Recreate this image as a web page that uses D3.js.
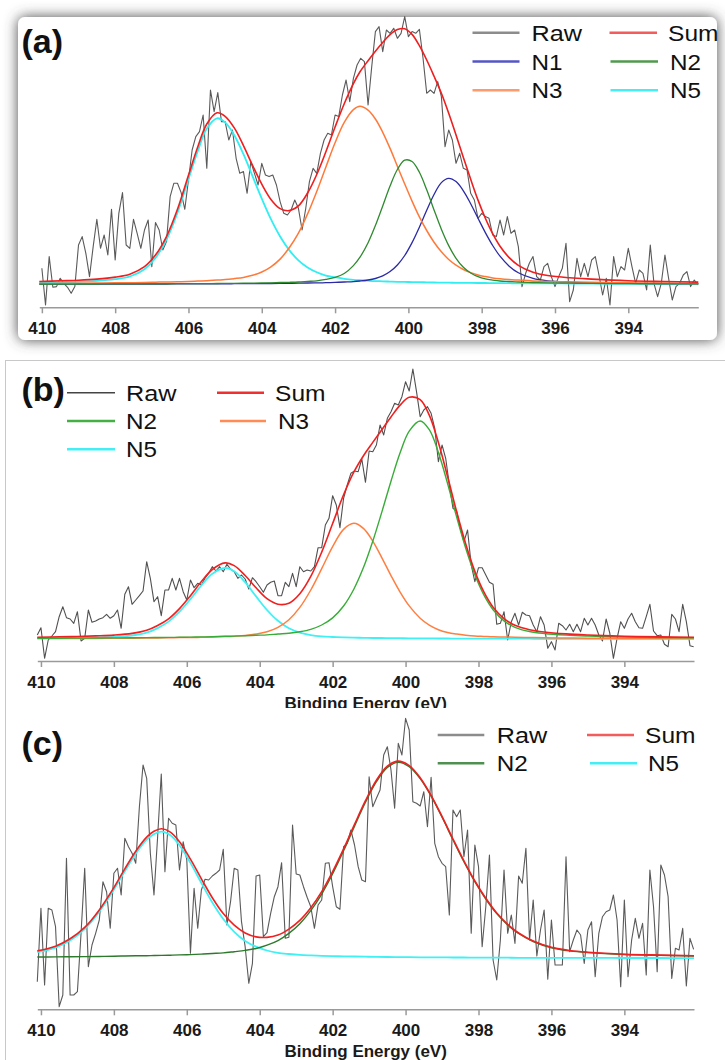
<!DOCTYPE html>
<html>
<head>
<meta charset="utf-8">
<script src="https://cdn.jsdelivr.net/npm/d3@7"></script>
<style>
  body { margin: 0; background: #fff; }
  svg { display: block; font-family: "Liberation Sans", Arial, sans-serif; }
</style>
</head>
<body>
<div id="chart"></div>
<script>
// Binding energy ticks shared by all three panels
const ticks = [410, 408, 406, 404, 402, 400, 398, 396, 394];

// Raw energies (eV), panel a
const energyA = [
  410, 409.9, 409.8, 409.7, 409.6, 409.5, 409.4, 409.3, 409.2, 409.1,
  409, 408.9, 408.8, 408.7, 408.6, 408.5, 408.4, 408.3, 408.2, 408.1,
  408, 407.9, 407.8, 407.7, 407.6, 407.5, 407.4, 407.3, 407.2, 407.1,
  407, 406.9, 406.8, 406.7, 406.6, 406.5, 406.4, 406.3, 406.2, 406.1,
  406, 405.9, 405.8, 405.7, 405.6, 405.5, 405.4, 405.3, 405.2, 405.1,
  405, 404.9, 404.8, 404.7, 404.6, 404.5, 404.4, 404.3, 404.2, 404.1,
  404, 403.9, 403.8, 403.7, 403.6, 403.5, 403.4, 403.3, 403.2, 403.1,
  403, 402.9, 402.8, 402.7, 402.6, 402.5, 402.4, 402.3, 402.2, 402.1,
  402, 401.9, 401.8, 401.7, 401.6, 401.5, 401.4, 401.3, 401.2, 401.1,
  401, 400.9, 400.8, 400.7, 400.6, 400.5, 400.4, 400.3, 400.2, 400.1,
  400, 399.9, 399.8, 399.7, 399.6, 399.5, 399.4, 399.3, 399.2, 399.1,
  399, 398.9, 398.8, 398.7, 398.6, 398.5, 398.4, 398.3, 398.2, 398.1,
  398, 397.9, 397.8, 397.7, 397.6, 397.5, 397.4, 397.3, 397.2, 397.1,
  397, 396.9, 396.8, 396.7, 396.6, 396.5, 396.4, 396.3, 396.2, 396.1,
  396, 395.9, 395.8, 395.7, 395.6, 395.5, 395.4, 395.3, 395.2, 395.1,
  395, 394.9, 394.8, 394.7, 394.6, 394.5, 394.4, 394.3, 394.2, 394.1,
  394, 393.9, 393.8, 393.7, 393.6, 393.5, 393.4, 393.3, 393.2, 393.1,
  393, 392.9, 392.8, 392.7, 392.6, 392.5, 392.4, 392.3, 392.2, 392.1
];
// Raw energies (eV), panels b and c start one step earlier
const energyBC = [410.1].concat(energyA);

// Raw intensities (a.u.)
const rawA = [
  39, 2.3, 50.7, 20, 20.7, 29, 24, 20, 14, 20.7,
  62.3, 70.7, 54, 30.7, 60.7, 88, 59, 72.3, 52.3, 98,
  47.3, 94, 114.7, 62.3, 59, 88, 74, 59, 77.3, 87.3,
  40.7, 84.7, 77.3, 57.3, 65.7, 110.7, 124, 124, 114.7, 98,
  127.3, 157.3, 170.7, 175.7, 192.3, 139, 217.3, 195.7, 214.7, 185.7,
  185.7, 167.3, 177.3, 149, 134, 135.7, 114, 145.7, 134, 122.3,
  144, 132.3, 130.7, 132.3, 122.3, 105.7, 94, 92.3, 97.3, 107.3,
  99, 77.3, 99, 125.7, 139, 134, 154, 167.3, 174, 172.3,
  192.3, 190.7, 212.3, 227.3, 205.7, 229, 242.3, 249, 245.7, 202.3,
  240.7, 275.7, 280.7, 255.7, 277.3, 274, 279, 269, 274, 290.7,
  270.7, 275.7, 274, 278, 249, 214, 217.3, 214, 225.7, 210.7,
  160.7, 177.3, 167.3, 144, 154, 139, 137.3, 114, 107.3, 89,
  94, 90.7, 89, 72.3, 70.7, 87.3, 72.3, 90.7, 74, 77.3,
  60.7, 20.7, 34, 44, 50.7, 30.7, 27.3, 40.7, 44, 30.7,
  20.7, 30.7, 39, 64, 5.7, 17.3, 49, 30.7, 44, 30.7,
  47.3, 50.7, 32.3, 12.3, 29, 2.3, 50.7, 30.7, 40.7, 37.3,
  59, 40.7, 24, 37.3, 34, 17.3, 62.3, 24, 10.7, 24,
  52.3, 29, 7.3, 20.7, 24, 32.3, 35.7, 20.7, 27.3, 22.3
];
const rawB = [
  26, 33.3, 2.7, 21, 25, 29.3, 44.3, 54.3, 43.3, 42,
  37.7, 49.3, 20, 22.7, 51, 38.7, 40, 42, 43.3, 46.7,
  42.7, 45.3, 51, 32.7, 66.7, 74.3, 56.7, 61, 65.3, 70,
  99.3, 82.7, 59.3, 64.3, 45.3, 71, 71, 82.7, 71, 82.7,
  69.3, 61, 81, 73.3, 77.7, 76, 82.7, 87.7, 94.3, 90,
  94.3, 89.3, 96.7, 92, 89.3, 82.7, 86, 82, 72, 83.3,
  79.3, 74.3, 68.7, 76, 78.7, 80, 65.3, 65.3, 78.7, 74.3,
  87.7, 74.3, 94.3, 89.3, 91, 90, 94.3, 113.3, 113.3, 136,
  142.7, 165.3, 156, 133.3, 162.7, 176, 187.7, 190, 189.3, 202,
  178.7, 210, 209.3, 216, 236, 226, 242.7, 249.3, 257.7, 256,
  264.3, 279.3, 270, 292, 269.3, 244.3, 251, 254.3, 247.7, 232.7,
  199.3, 216, 202.7, 176, 152.7, 150, 132.7, 119.3, 131, 96,
  79.3, 93.3, 93.3, 86, 78.7, 76.7, 36.7, 37.7, 49.3, 21,
  39.3, 47.7, 36, 48.7, 46, 45.3, 36, 29.3, 44.3, 36,
  12.7, 19.3, 11, 37.7, 35.3, 31, 36.7, 29.3, 36.7, 29.3,
  42.7, 36, 42.7, 36, 26, 20, 42, 28, 2.7, 22.7,
  39.3, 32.7, 42, 47.7, 39.3, 33.3, 32.7, 44.3, 56.7, 30,
  25.3, 26, 16.7, 14.3, 46.7, 42, 29.3, 56.7, 39.3, 15.3, 14.3
];
const rawC = [
  27.6, 101, 24.3, 101, 99.3, 82.6, 2.6, 14.3, 151, 14.3,
  14.3, 17.6, 76, 141, 42.6, 64.3, 76, 89.3, 127.6, 117.6,
  81, 136, 141, 114.3, 171, 162.6, 156, 146, 202.6, 244.3,
  231, 156, 114.3, 172.6, 235.3, 137.6, 191, 186, 184.3, 139.3,
  167.6, 149.3, 56, 121, 81, 119.3, 130, 129.3, 133.3, 136,
  139.3, 160, 84.3, 107.6, 141, 139.3, 87.6, 62.6, 26, 46,
  133.3, 134.3, 72.6, 76.6, 96, 112.6, 122.6, 146.6, 71, 72,
  184.3, 135.3, 134.3, 122.6, 112, 102.6, 81, 104.3, 109.3, 146,
  146.6, 122.6, 102.6, 100, 162.6, 166, 179.3, 164.3, 142.6, 129.3,
  127.6, 232.6, 202.6, 211, 219.3, 254.3, 262.6, 239.3, 201, 266,
  254.3, 291, 279.3, 207.6, 206, 203.3, 217.6, 182.6, 232, 166,
  152.6, 146, 142.6, 94.3, 199.3, 192.6, 199.3, 152.6, 179.3, 76,
  164.3, 142.6, 62.6, 102.6, 154.3, 49.3, 29.3, 69.3, 139.3, 76,
  94.3, 65.9, 133.3, 126, 161, 69.3, 109.3, 53.3, 79.3, 99.3,
  30, 89.3, 44.3, 44.3, 44.3, 152.6, 57.6, 69.3, 79.3, 74.3,
  45.9, 79.3, 87.6, 32.6, 76, 92.6, 97.6, 99.3, 114.3, 89.3,
  22.6, 109.3, 32.6, 69.3, 91, 71, 86, 34.3, 139.3, 102.6,
  37.6, 144.3, 134.3, 112.6, 30.9, 61, 59.3, 81, 23.3, 71, 60
];

// Fitted curves, panel a (sampled energies and intensities)
const fitEnergyA = [410.07, 409.5, 409, 408.5, 408, 407.6, 407.2, 406.9, 406.6, 406.3,
  406, 405.75, 405.5, 405.22, 405, 404.75, 404.5, 404.25, 404, 403.75,
  403.5, 403.25, 403, 402.75, 402.5, 402.25, 402, 401.75, 401.5, 401.32,
  401.1, 400.9, 400.7, 400.5, 400.3, 400.1, 399.9, 399.7, 399.5, 399.3,
  399.1, 398.9, 398.7, 398.5, 398.3, 398.1, 397.9, 397.7, 397.5, 397.25,
  397, 396.6, 396.2, 395.6, 395, 394, 393, 392.09];
const sumA = [25.8, 26.5, 27.1, 28.2, 30.2, 33.1, 40.6, 52.2, 70.7, 98,
  132, 160.1, 183.3, 194.5, 191, 179.4, 161.7, 141.8, 123.1, 107.9,
  98.7, 96.7, 101.4, 114.3, 132.8, 155.6, 180.3, 203.5, 223.6, 235.5,
  246.6, 256.1, 264.8, 272.6, 277.7, 278.6, 272.9, 261.6, 247.3, 231.1,
  214.1, 194.1, 172.4, 149.7, 128, 107.2, 89.1, 73.6, 61, 49.7,
  42, 35.1, 31.8, 29.5, 28.2, 26.6, 25.8, 25.2];
const n1A = [23.2, 23.2, 23.2, 23.2, 23.3, 23.3, 23.3, 23.3, 23.3, 23.4,
  23.4, 23.4, 23.4, 23.5, 23.5, 23.6, 23.6, 23.7, 23.7, 23.8,
  23.9, 24, 24.1, 24.3, 24.4, 24.6, 24.9, 25.3, 25.7, 26.3,
  27.3, 28.8, 31.4, 35.7, 42.3, 51.8, 64.7, 80.1, 97, 112.8,
  124.7, 129, 125.7, 116.5, 103.6, 89, 74.7, 61.8, 51.1, 41.1,
  34.5, 28.9, 26.5, 25.2, 24.6, 24, 23.7, 23.6];
const n2A = [23.2, 23.2, 23.3, 23.3, 23.4, 23.4, 23.4, 23.5, 23.5, 23.6,
  23.6, 23.7, 23.7, 23.8, 23.9, 24, 24.1, 24.2, 24.4, 24.5,
  24.8, 25, 25.3, 25.9, 26.5, 27.9, 29.9, 33.8, 41.7, 50.1,
  64.6, 81.8, 101.4, 121.3, 137.8, 147.1, 145.8, 135, 117.5, 97.4,
  78.1, 61.7, 49, 40, 34.3, 30.6, 28.4, 27.2, 26.3, 25.8,
  25.3, 24.8, 24.5, 24.1, 23.9, 23.6, 23.5, 23.4];
const n3A = [23.8, 24, 24.1, 24.3, 24.5, 24.6, 24.8, 25.1, 25.3, 25.5,
  25.8, 26.2, 26.5, 27.2, 27.7, 28.7, 29.9, 32, 35.3, 40.5,
  48.2, 59.5, 74.1, 93.4, 115.9, 140.4, 164.5, 184.9, 197.7, 201,
  197.1, 188.3, 175, 158.9, 141.1, 123.3, 106.2, 90.4, 76.8, 65.1,
  55.6, 47.8, 42.2, 37.8, 34.7, 32.3, 30.7, 29.4, 28.5, 27.7,
  27.2, 26.4, 25.9, 25.4, 25, 24.5, 24.2, 23.9];
const n5A = [24.6, 25.1, 25.5, 26.4, 28.1, 30.8, 38.1, 49.3, 67.6, 94.6,
  128.2, 155.8, 178.7, 189, 184.9, 172.1, 153.1, 130.9, 108.7, 88.1,
  70.8, 57.2, 46.9, 39.8, 35, 31.7, 30, 28.5, 27.5, 27.1,
  26.6, 26.2, 26, 25.7, 25.5, 25.4, 25.2, 25.1, 25, 24.8,
  24.7, 24.6, 24.5, 24.4, 24.4, 24.3, 24.3, 24.2, 24.1, 24.1,
  24, 24, 23.9, 23.8, 23.7, 23.5, 23.4, 23.4];

// Fitted curves, panel b
const fitEnergyB = [410.1, 409.5, 409, 408.5, 408, 407.5, 407.1, 406.8, 406.5, 406.2,
  405.9, 405.6, 405.3, 404.95, 404.7, 404.4, 404.1, 403.8, 403.5, 403.2,
  402.9, 402.6, 402.3, 402, 401.7, 401.42, 401.15, 400.9, 400.65, 400.4,
  400.15, 399.9, 399.6, 399.35, 399.1, 398.85, 398.6, 398.35, 398.1, 397.85,
  397.6, 397.3, 397, 396.6, 396.2, 395.6, 395, 394, 393, 392.09];
const sumB = [23.8, 24.2, 24.5, 25.1, 25.9, 27.6, 30.7, 35.5, 42.2, 52.4,
  65.3, 79.4, 91.5, 98.1, 95.4, 85.5, 73.2, 62.3, 56.8, 57.8,
  67.3, 84.6, 108.9, 137.5, 166.2, 188.8, 205.5, 218.6, 231.3, 244.1,
  255.9, 263.7, 261.4, 245.8, 218.4, 184.7, 149.4, 117, 89.6, 68.8,
  53.8, 42.4, 35.7, 31.3, 29, 27.1, 26, 24.8, 24.1, 23.7];
const n2B = [22.7, 22.8, 22.9, 23, 23.1, 23.3, 23.4, 23.5, 23.6, 23.7,
  23.9, 24.1, 24.3, 24.7, 24.9, 25.2, 25.7, 26.1, 27, 27.8,
  29.3, 31.7, 36, 43.1, 55, 71.8, 93.9, 119.7, 149.1, 179.8,
  208.2, 229.9, 240, 231.3, 208.6, 177.7, 144.1, 112.8, 86.2, 65.8,
  51.3, 40.1, 33.7, 29.5, 27.5, 25.9, 25, 24, 23.5, 23.2];
const n3B = [22.4, 22.5, 22.5, 22.6, 22.7, 22.8, 23, 23.1, 23.2, 23.4,
  23.5, 23.7, 24, 24.4, 24.8, 25.5, 26.9, 29.2, 33.6, 41.3,
  53.6, 71, 92.3, 114.4, 131.6, 137.7, 132.4, 119.9, 103.2, 85.4,
  68.9, 55.1, 42.8, 35.9, 31.3, 28.5, 26.9, 25.8, 25, 24.6,
  24.2, 24, 23.7, 23.5, 23.3, 23, 22.8, 22.6, 22.5, 22.4];
const n5B = [22.7, 22.9, 23.1, 23.5, 24.1, 25.5, 28.3, 32.9, 39.4, 49.3,
  61.9, 75.6, 87.2, 93, 89.7, 78.8, 64.6, 51, 40.2, 32.7,
  28.4, 25.9, 24.6, 24, 23.6, 23.3, 23.2, 23, 23, 22.9,
  22.8, 22.7, 22.6, 22.6, 22.5, 22.5, 22.4, 22.4, 22.4, 22.4,
  22.3, 22.3, 22.3, 22.3, 22.2, 22.2, 22.2, 22.2, 22.1, 22.1];

// Fitted curves, panel c
const fitEnergyC = [410.1, 409.6, 409.2, 408.8, 408.4, 408, 407.7, 407.4, 407.1, 406.9,
  406.69, 406.45, 406.2, 405.9, 405.6, 405.3, 405, 404.7, 404.4, 404.1,
  403.8, 403.5, 403.2, 402.9, 402.6, 402.3, 402, 401.7, 401.4, 401.1,
  400.8, 400.5, 400.2, 399.9, 399.6, 399.3, 399, 398.7, 398.4, 398.1,
  397.8, 397.5, 397.2, 396.9, 396.5, 396, 395.5, 395, 394, 393, 392.09];
const sumC = [58.4, 63.1, 70.5, 81.9, 99.4, 121.7, 140.4, 158.1, 172.2, 178,
  180.5, 177.2, 167.5, 150.1, 130.5, 111.6, 95.7, 84.1, 76.3, 72.4,
  71.9, 74.2, 80.2, 88.9, 101.5, 117.7, 137.7, 160.4, 184.9, 208.6,
  229.1, 243.1, 248.2, 243.7, 231.6, 214, 192.9, 170.3, 148.4, 128.3,
  111, 96.3, 85, 76.3, 68.3, 62, 58.8, 57.1, 55.1, 54.2, 53.5];
const n2C = [52.3, 52.4, 52.6, 52.7, 52.8, 53.1, 53.3, 53.5, 53.6, 53.8,
  53.9, 54.1, 54.4, 54.7, 55.2, 55.8, 56.4, 57.6, 58.9, 60.8,
  64.1, 68.7, 75.9, 85.5, 98.6, 115.2, 135.5, 158.5, 183.1, 207,
  227.6, 241.8, 247, 242.6, 230.6, 213.1, 192, 169.5, 147.6, 127.6,
  110.3, 95.7, 84.4, 75.8, 67.8, 61.6, 58.4, 56.7, 54.8, 53.9, 53.3];
const n5C = [57.1, 61.7, 68.9, 80.2, 97.6, 119.6, 138.1, 155.6, 169.6, 175.2,
  177.6, 174.1, 164.1, 146.4, 126.3, 106.8, 90.3, 77.5, 68.4, 62.6,
  58.8, 56.5, 55.3, 54.4, 53.9, 53.5, 53.2, 52.9, 52.8, 52.6,
  52.5, 52.3, 52.2, 52.1, 52, 51.9, 51.9, 51.8, 51.8, 51.7,
  51.7, 51.6, 51.6, 51.5, 51.5, 51.4, 51.4, 51.4, 51.3, 51.3, 51.2];

const width = 725, height = 1060;

const svg = d3.select('#chart')
  .append('svg')
  .attr('width', width)
  .attr('height', height);

// soft grey shadow around panel (a)
const defs = svg.append('defs');
const shadow = defs.append('filter')
  .attr('id', 'shadow')
  .attr('x', '-10%').attr('y', '-15%')
  .attr('width', '120%').attr('height', '130%');
shadow.append('feDropShadow')
  .attr('dx', 0).attr('dy', 0)
  .attr('stdDeviation', 7)
  .attr('flood-color', '#4a4a4a')
  .attr('flood-opacity', 1);

svg.append('rect')
  .attr('x', 18).attr('y', 17)
  .attr('width', 699).attr('height', 323)
  .attr('rx', 7)
  .attr('fill', '#fff')
  .attr('filter', 'url(#shadow)');

function drawPanel(o) {
  const g = svg.append('g');

  const x = d3.scaleLinear().domain(o.xDomain).range(o.xRange);
  const y = d3.scaleLinear().domain([0, 300]).range([o.axisY, o.axisY - 300]);

  // x axis
  const axis = d3.axisBottom(x)
    .tickValues(ticks)
    .tickSize(6)
    .tickSizeOuter(0)
    .tickFormat(d3.format('d'));

  const ag = g.append('g')
    .attr('transform', `translate(0, ${o.axisY})`)
    .call(axis);
  ag.select('.domain').attr('stroke', '#9a9a9a').attr('stroke-width', 1.5);
  ag.selectAll('.tick line').attr('stroke', '#9a9a9a').attr('stroke-width', 1.5);
  ag.selectAll('.tick text')
    .attr('y', 15)
    .attr('fill', '#1a1a1a')
    .style('font-size', '17px')
    .style('font-weight', 'bold')
    .style('font-family', '"Liberation Sans", Arial, sans-serif');

  if (o.title) {
    g.append('text')
      .attr('x', (o.xRange[0] + o.xRange[1]) / 2)
      .attr('y', o.titleY)
      .attr('text-anchor', 'middle')
      .style('font-size', '17px')
      .style('font-weight', 'bold')
      .attr('fill', '#1a1a1a')
      .text(o.title);
  }

  // raw spectrum
  const rawLine = d3.line()
    .x((d, i) => x(o.energy[i]))
    .y(d => y(d));
  g.append('path')
    .datum(o.raw)
    .attr('fill', 'none')
    .attr('stroke', o.rawColor)
    .attr('stroke-width', 1.1)
    .attr('stroke-linejoin', 'round')
    .attr('d', rawLine);

  // fitted components, then the envelope
  const fitLine = d3.line()
    .x((d, i) => x(o.fitEnergy[i]))
    .y(d => y(d))
    .curve(d3.curveCatmullRom);
  o.fits.forEach(f => {
    g.append('path')
      .datum(f.values)
      .attr('fill', 'none')
      .attr('stroke', f.color)
      .attr('stroke-width', f.width)
      .attr('d', fitLine);
  });

  // panel label
  g.append('text')
    .attr('x', 21.5)
    .attr('y', o.labelY)
    .style('font-size', '34px')
    .style('font-weight', 'bold')
    .attr('fill', '#111')
    .text(o.label);

  // legend (the original lettering is a little wider than the font)
  o.legend.forEach(l => {
    g.append('line')
      .attr('x1', l.x1).attr('x2', l.x2)
      .attr('y1', l.y).attr('y2', l.y)
      .attr('stroke', l.color)
      .attr('stroke-width', l.w || 2.5);
    g.append('text')
      .attr('x', l.tx)
      .attr('y', l.y + 8)
      .attr('textLength', l.label.length === 3 ? 50.5 : 31)
      .attr('lengthAdjust', 'spacingAndGlyphs')
      .style('font-size', '22.5px')
      .attr('fill', '#111')
      .text(l.label);
  });
}

// Panel (a)
drawPanel({
  label: '(a)', labelY: 53,
  xDomain: [410.07, 392.09], xRange: [39.3, 698.3], axisY: 307.3,
  energy: energyA, raw: rawA, rawColor: '#5a5a5a',
  fitEnergy: fitEnergyA,
  fits: [
    { values: n5A, color: '#30eef2', width: 1.8 },
    { values: n1A, color: '#2a2aa6', width: 1.3 },
    { values: n3A, color: '#ff7a3a', width: 1.5 },
    { values: n2A, color: '#2f8a2f', width: 1.3 },
    { values: sumA, color: '#f01e1e', width: 1.6 }
  ],
  legend: [
    { label: 'Raw', color: '#8c8c8c', x1: 472.5, x2: 519.5, y: 32.7, tx: 531.5 },
    { label: 'Sum', color: '#f25c5c', x1: 609.5, x2: 657, y: 32.7, tx: 668 },
    { label: 'N1', color: '#5555c4', x1: 472.5, x2: 519.5, y: 61.5, tx: 531.5 },
    { label: 'N2', color: '#4f9a4f', x1: 610.5, x2: 658, y: 61.5, tx: 670 },
    { label: 'N3', color: '#ff9b6b', x1: 472.5, x2: 519.5, y: 90.2, tx: 531.5 },
    { label: 'N5', color: '#45eef5', x1: 610.5, x2: 658, y: 90.2, tx: 670 }
  ]
});

// frame of panel (b)
svg.append('line')
  .attr('x1', 5).attr('x2', 725).attr('y1', 360.5).attr('y2', 360.5)
  .attr('stroke', '#c8c8c8').attr('stroke-width', 1);

// Panel (b)
drawPanel({
  label: '(b)', labelY: 401,
  title: 'Binding Energy (eV)', titleY: 709,
  xDomain: [410.1, 392.09], xRange: [37.3, 694], axisY: 661,
  energy: energyBC, raw: rawB, rawColor: '#505050',
  fitEnergy: fitEnergyB,
  fits: [
    { values: n5B, color: '#3ff0f4', width: 1.8 },
    { values: n3B, color: '#ff7f40', width: 1.5 },
    { values: n2B, color: '#38ac38', width: 1.4 },
    { values: sumB, color: '#f02020', width: 1.6 }
  ],
  legend: [
    { label: 'Raw', color: '#444', x1: 67, x2: 115, y: 392.7, tx: 126, w: 1.5 },
    { label: 'Sum', color: '#f03030', x1: 217, x2: 264, y: 392.7, tx: 275 },
    { label: 'N2', color: '#44b044', x1: 67, x2: 115, y: 421, tx: 126 },
    { label: 'N3', color: '#ff8c55', x1: 220, x2: 266, y: 421, tx: 278 },
    { label: 'N5', color: '#44eef5', x1: 67, x2: 115, y: 449.3, tx: 126 }
  ]
});

// panel (c) sits on top of the bottom of panel (b)
svg.append('rect')
  .attr('x', 6).attr('y', 708)
  .attr('width', 719).attr('height', 352)
  .attr('fill', '#fff');

drawPanel({
  label: '(c)', labelY: 755,
  title: 'Binding Energy (eV)', titleY: 1056.5,
  xDomain: [410.1, 392.09], xRange: [37.3, 694], axisY: 1009.3,
  energy: energyBC, raw: rawC, rawColor: '#5a5a5a',
  fitEnergy: fitEnergyC,
  fits: [
    { values: n5C, color: '#3ff0f4', width: 1.8 },
    { values: n2C, color: '#2d7a2d', width: 1.4 },
    { values: sumC, color: '#f02020', width: 1.6 }
  ],
  legend: [
    { label: 'Raw', color: '#8c8c8c', x1: 437.7, x2: 484.3, y: 735, tx: 496.7 },
    { label: 'Sum', color: '#f25c5c', x1: 587, x2: 634, y: 735, tx: 645 },
    { label: 'N2', color: '#4f8f4f', x1: 437.7, x2: 484.3, y: 763.3, tx: 496.7 },
    { label: 'N5', color: '#45eef5', x1: 590, x2: 637, y: 763.3, tx: 648 }
  ]
});

// left frame line shared by panels (b) and (c)
svg.append('line')
  .attr('x1', 5.5).attr('x2', 5.5).attr('y1', 360).attr('y2', 1060)
  .attr('stroke', '#c8c8c8').attr('stroke-width', 1);
</script>
</body>
</html>
